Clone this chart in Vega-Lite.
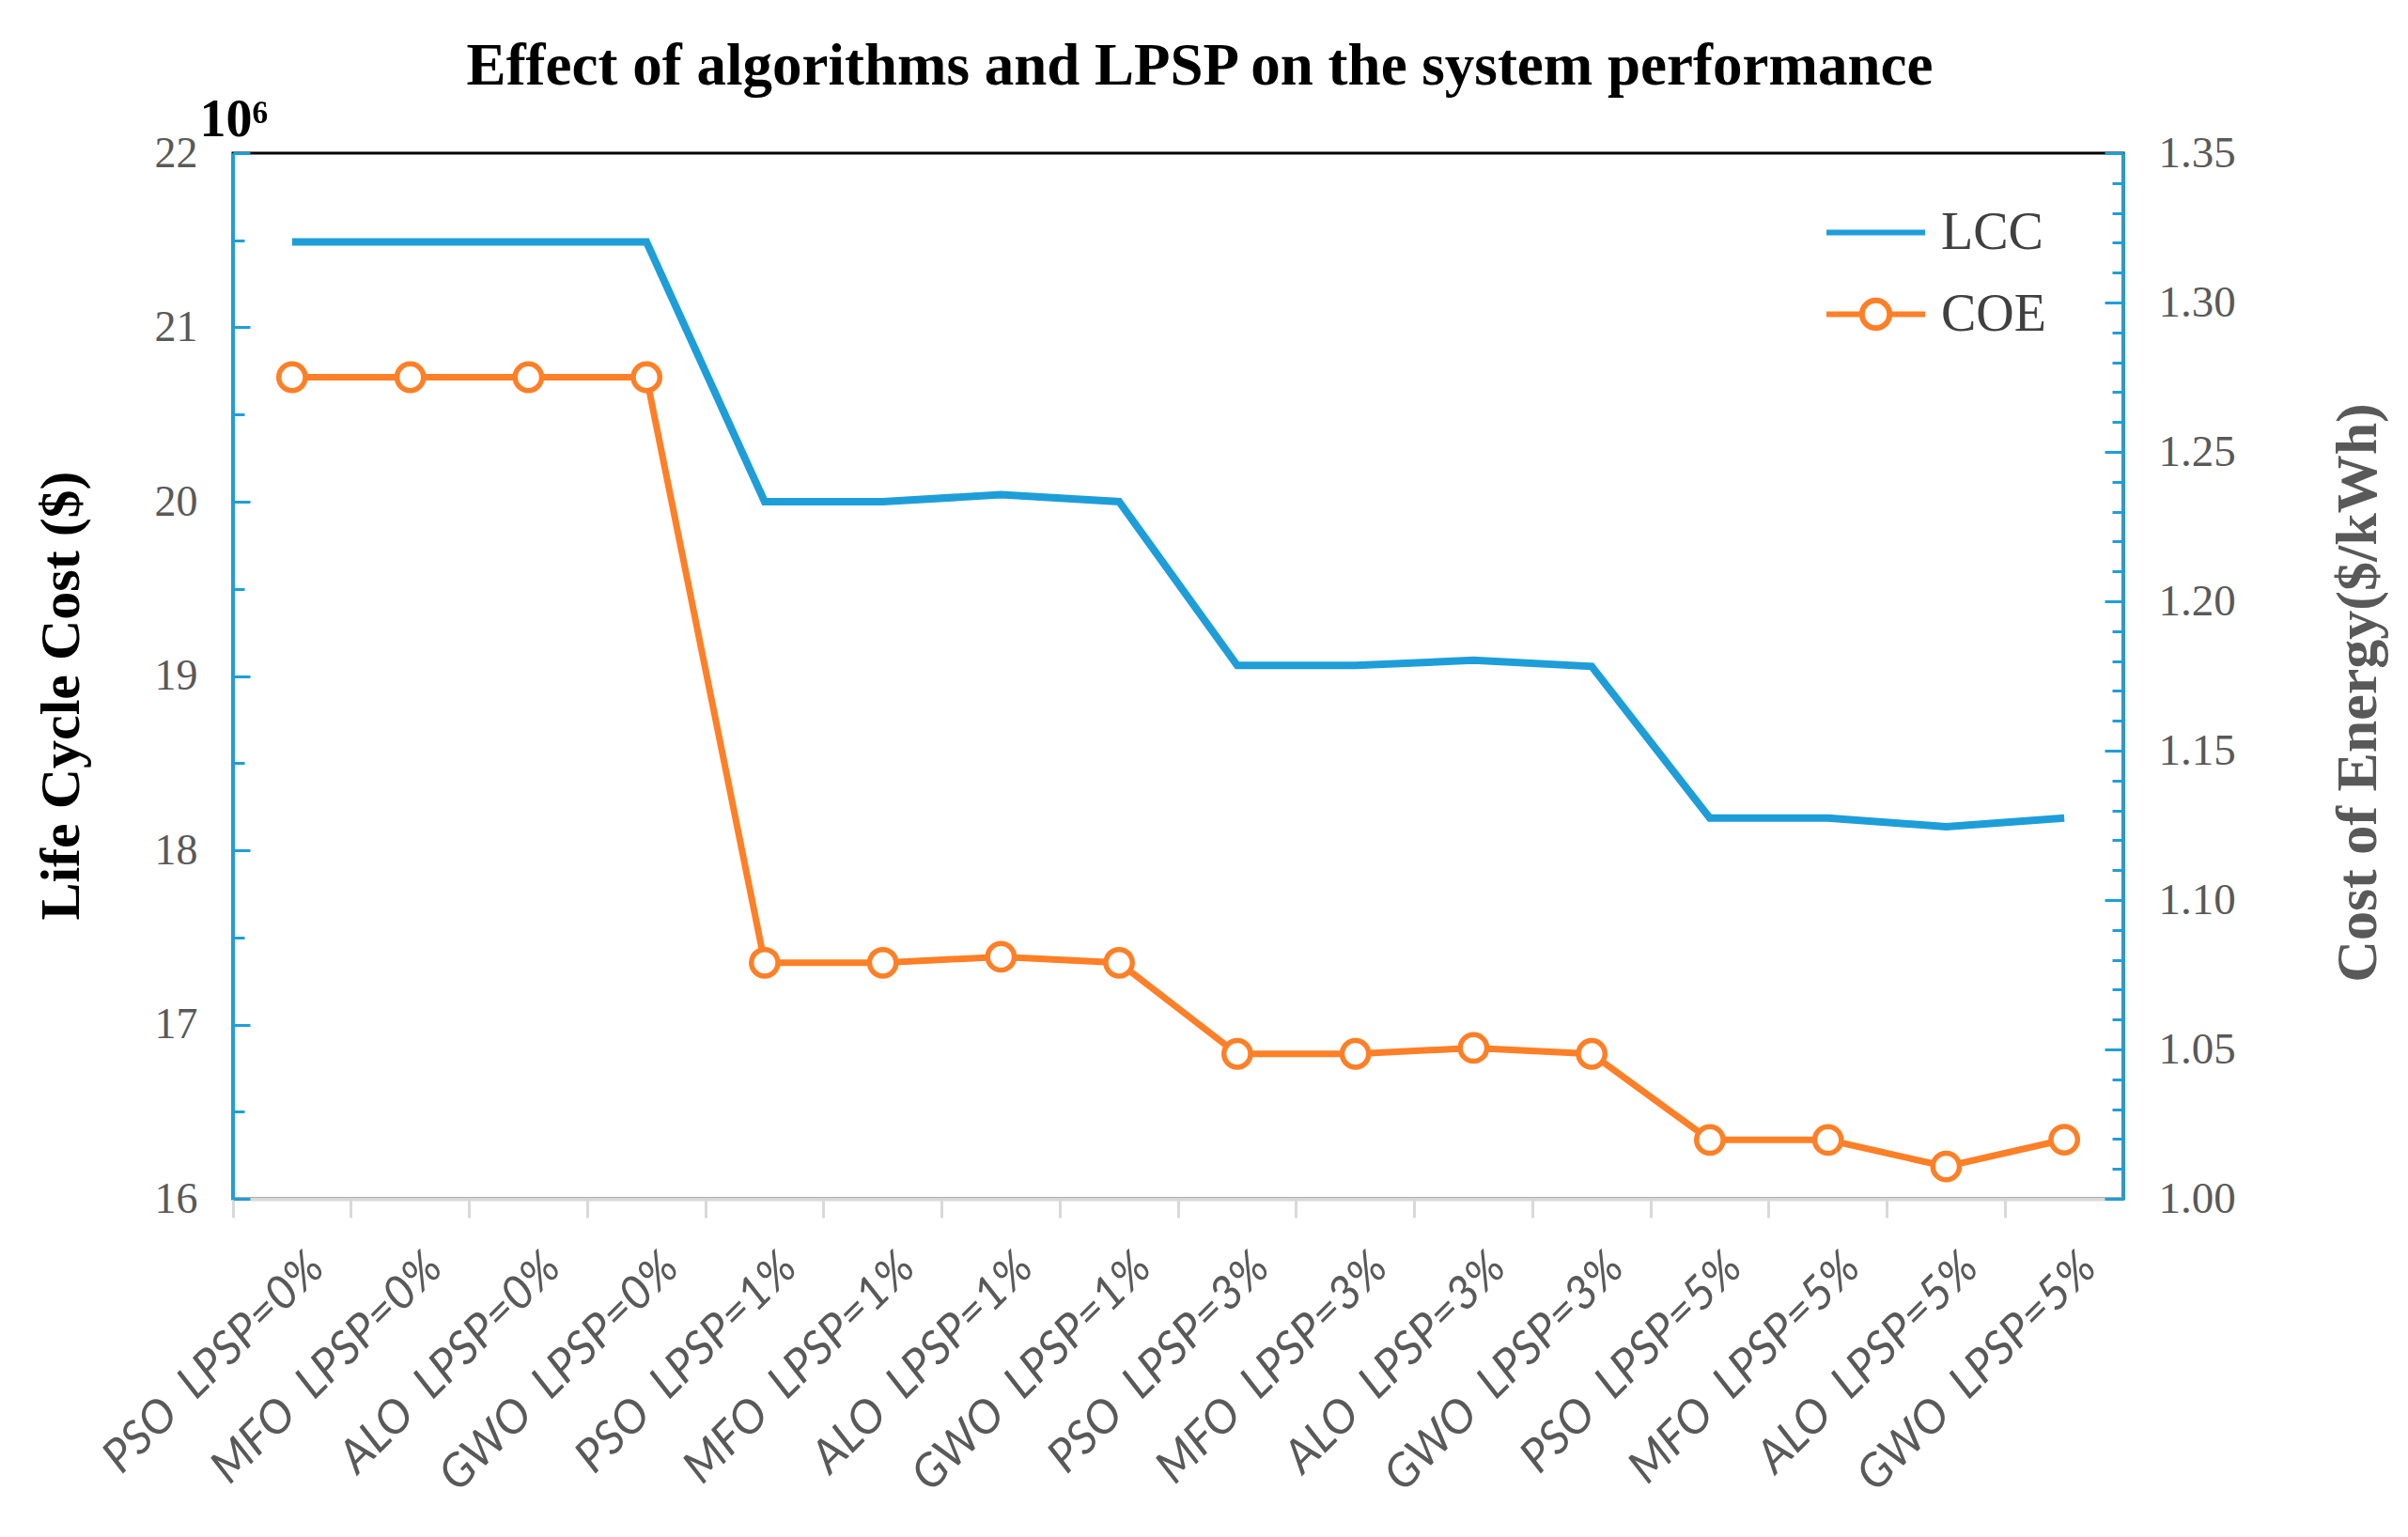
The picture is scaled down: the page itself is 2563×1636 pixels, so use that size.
{
  "$schema": "https://vega.github.io/schema/vega-lite/v6.json",
  "width": 2012,
  "height": 1113,
  "autosize": {"type": "none"},
  "padding": {"left": 248, "top": 163, "right": 303, "bottom": 360},
  "background": "white",
  "config": {
    "view": {"stroke": "black", "strokeWidth": 3},
    "axis": {"grid": false}
  },
  "title": {
    "text": "Effect of algorithms and LPSP on the system performance",
    "font": "Liberation Serif",
    "fontSize": 63,
    "fontWeight": "bold",
    "color": "black",
    "anchor": "middle",
    "frame": "group",
    "dx": 23,
    "baseline": "alphabetic",
    "offset": -54
  },
  "data": {
    "values": [
      {"cat": "PSO\u00a0\u00a0LPSP=0%", "LCC": 21.49, "COE": 1.275},
      {"cat": "MFO\u00a0\u00a0LPSP=0%", "LCC": 21.49, "COE": 1.275},
      {"cat": "ALO\u00a0\u00a0LPSP=0%", "LCC": 21.49, "COE": 1.275},
      {"cat": "GWO\u00a0\u00a0LPSP=0%", "LCC": 21.49, "COE": 1.275},
      {"cat": "PSO\u00a0\u00a0LPSP=1%", "LCC": 20.0, "COE": 1.079},
      {"cat": "MFO\u00a0\u00a0LPSP=1%", "LCC": 20.0, "COE": 1.079},
      {"cat": "ALO\u00a0\u00a0LPSP=1%", "LCC": 20.04, "COE": 1.081},
      {"cat": "GWO\u00a0\u00a0LPSP=1%", "LCC": 20.0, "COE": 1.079},
      {"cat": "PSO\u00a0\u00a0LPSP=3%", "LCC": 19.06, "COE": 1.0485},
      {"cat": "MFO\u00a0\u00a0LPSP=3%", "LCC": 19.06, "COE": 1.0485},
      {"cat": "ALO\u00a0\u00a0LPSP=3%", "LCC": 19.09, "COE": 1.0505},
      {"cat": "GWO\u00a0\u00a0LPSP=3%", "LCC": 19.055, "COE": 1.0485},
      {"cat": "PSO\u00a0\u00a0LPSP=5%", "LCC": 18.185, "COE": 1.0197},
      {"cat": "MFO\u00a0\u00a0LPSP=5%", "LCC": 18.185, "COE": 1.0197},
      {"cat": "ALO\u00a0\u00a0LPSP=5%", "LCC": 18.135, "COE": 1.0108},
      {"cat": "GWO\u00a0\u00a0LPSP=5%", "LCC": 18.185, "COE": 1.0198}
    ]
  },
  "encoding": {
    "x": {
      "field": "cat",
      "type": "nominal",
      "sort": null,
      "scale": {"type": "band", "paddingInner": 0, "paddingOuter": 0},
      "axis": {
        "title": "10\u2076",
        "titleX": -36,
        "titleY": -1132,
        "titleAngle": 0,
        "titleAlign": "left",
        "titleBaseline": "alphabetic",
        "titleFont": "Liberation Serif",
        "titleFontSize": 56,
        "titleFontWeight": "bold",
        "titleColor": "black",
        "bandPosition": 0,
        "labelAngle": -45,
        "labelAlign": "right",
        "labelBaseline": "middle",
        "labelFont": "Lato",
        "labelFontStyle": "italic",
        "labelFontSize": 49,
        "labelColor": "#595959",
        "labelPadding": 45,
        "labelOffset": 26,
        "labelLimit": 0,
        "labelOverlap": false,
        "domainColor": "#D9D9D9",
        "domainWidth": 4,
        "tickColor": "#D9D9D9",
        "tickWidth": 3,
        "tickSize": 20
      }
    }
  },
  "layer": [
    {
      "mark": {"type": "line", "strokeWidth": 8, "color": "#1E9ED8"},
      "encoding": {
        "y": {
          "field": "LCC",
          "type": "quantitative",
          "scale": {"domain": [16, 22], "nice": false, "zero": false},
          "axis": {
            "orient": "left",
            "values": [16, 17, 18, 19, 20, 21, 22],
            "tickSize": -18,
            "tickWidth": 3,
            "tickColor": "#1E9ED8",
            "domainColor": "#1E9ED8",
            "domainWidth": 3,
            "labelFont": "Liberation Serif",
            "labelFontSize": 46,
            "labelColor": "#595959",
            "labelPadding": 56,
            "labelFlush": false,
            "labelOverlap": false,
            "title": "Life Cycle Cost ($)",
            "titleFont": "Liberation Serif",
            "titleFontSize": 60,
            "titleFontWeight": "bold",
            "titleColor": "black",
            "titleAngle": 270,
            "titleAlign": "center",
            "titleBaseline": "middle",
            "titleX": -183,
            "titleY": 577
          }
        },
        "color": {
          "datum": "LCC",
          "type": "nominal",
          "scale": {"domain": ["LCC", "COE"], "range": ["#1E9ED8", "#FF7F27"]},
          "legend": {
            "orient": "none",
            "legendX": 1693,
            "legendY": 29,
            "title": null,
            "padding": 0,
            "labelFont": "Liberation Serif",
            "labelFontSize": 56,
            "labelColor": "#404040",
            "labelOffset": 14,
            "rowPadding": 3,
            "symbolSize": 11025,
            "symbolStrokeWidth": 6,
            "symbolFillColor": "white",
            "symbolType": "M-1,0H1",
            "encode": {
              "symbols": {
                "update": {
                  "shape": {"signal": "datum.value === 'COE' ? 'M-1,0H-0.28M0.28,0A0.28,0.28,0,1,1,-0.28,0A0.28,0.28,0,1,1,0.28,0ZM0.28,0H1' : 'M-1,0H1'"},
                  "fill": {"value": "white"},
                  "strokeWidth": {"value": 6}
                }
              }
            }
          }
        }
      }
    },
    {
      "mark": {"type": "line", "strokeOpacity": 0},
      "encoding": {
        "y": {
          "field": "LCC",
          "type": "quantitative",
          "scale": {"domain": [16, 22], "nice": false, "zero": false},
          "axis": {
            "orient": "left",
            "values": [16.5, 17.5, 18.5, 19.5, 20.5, 21.5],
            "tickSize": -12,
            "tickWidth": 3,
            "tickColor": "#1E9ED8",
            "domainColor": "#1E9ED8",
            "domainWidth": 3,
            "labels": false,
            "title": null
          }
        }
      }
    },
    {
      "mark": {"type": "line", "strokeWidth": 7, "color": "#FF7F27"},
      "encoding": {
        "y": {
          "field": "COE",
          "type": "quantitative",
          "scale": {"domain": [1.0, 1.35], "nice": false, "zero": false},
          "axis": {
            "orient": "right",
            "values": [1.0, 1.05, 1.1, 1.15, 1.2, 1.25, 1.3, 1.35],
            "format": ".2f",
            "tickSize": -20,
            "tickWidth": 3,
            "tickColor": "#1E9ED8",
            "domainColor": "#1E9ED8",
            "domainWidth": 3,
            "labelFont": "Liberation Serif",
            "labelFontSize": 47,
            "labelColor": "#595959",
            "labelPadding": 57,
            "labelFlush": false,
            "labelOverlap": false,
            "title": "Cost of Energy($/kWh)",
            "titleFont": "Liberation Serif",
            "titleFontSize": 62,
            "titleFontWeight": "bold",
            "titleColor": "#595959",
            "titleAngle": 270,
            "titleAlign": "center",
            "titleBaseline": "middle",
            "titleX": 249,
            "titleY": 574
          }
        },
        "color": {"datum": "COE", "type": "nominal"}
      }
    },
    {
      "mark": {"type": "point", "filled": true, "fill": "white", "stroke": "#FF7F27", "strokeWidth": 5.5, "size": 800, "opacity": 1},
      "encoding": {
        "y": {
          "field": "COE",
          "type": "quantitative",
          "scale": {"domain": [1.0, 1.35], "nice": false, "zero": false},
          "axis": null
        }
      }
    },
    {
      "mark": {"type": "line", "strokeOpacity": 0},
      "encoding": {
        "y": {
          "field": "COE",
          "type": "quantitative",
          "scale": {"domain": [1.0, 1.35], "nice": false, "zero": false},
          "axis": {
            "orient": "right",
            "values": [1.01, 1.02, 1.03, 1.04, 1.06, 1.07, 1.08, 1.09, 1.11, 1.12, 1.13, 1.14, 1.16, 1.17, 1.18, 1.19, 1.21, 1.22, 1.23, 1.24, 1.26, 1.27, 1.28, 1.29, 1.31, 1.32, 1.33, 1.34],
            "tickSize": -12,
            "tickWidth": 3,
            "tickColor": "#1E9ED8",
            "domainColor": "#1E9ED8",
            "domainWidth": 3,
            "labels": false,
            "title": null
          }
        }
      }
    }
  ],
  "resolve": {"scale": {"y": "independent"}, "axis": {"y": "independent"}}
}
